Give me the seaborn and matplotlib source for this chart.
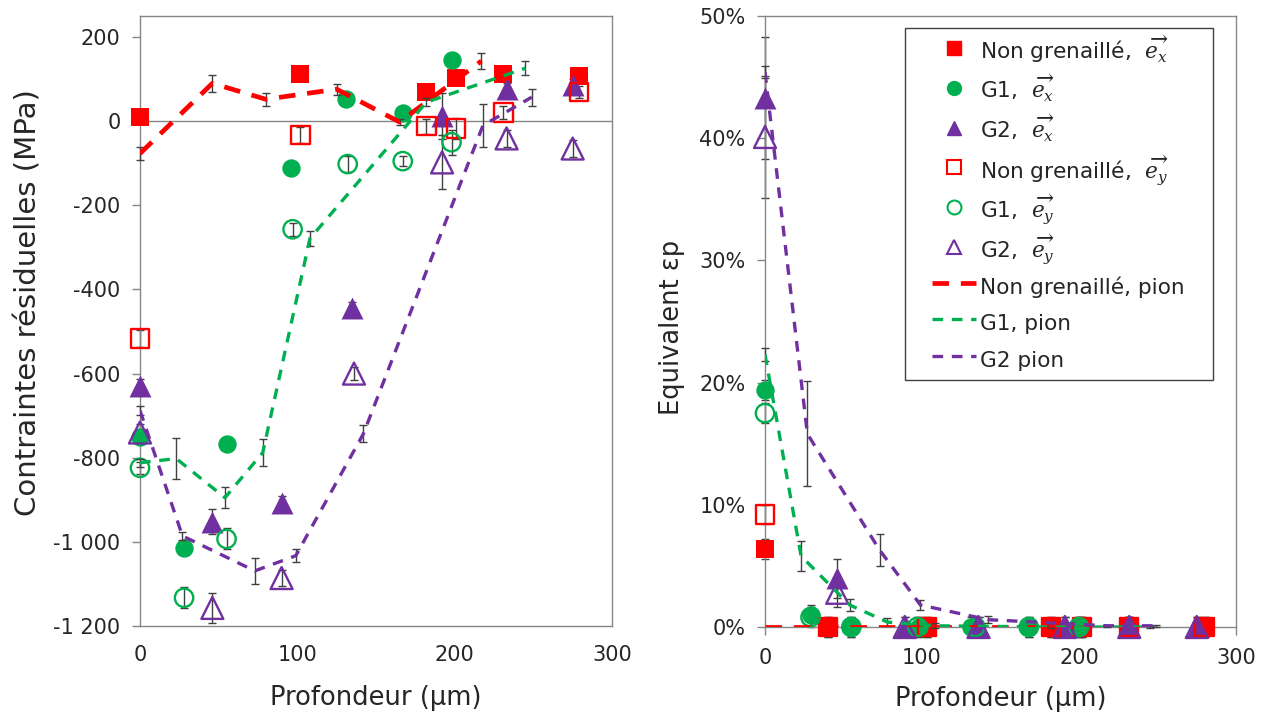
import matplotlib
matplotlib.use("Agg")
import matplotlib.pyplot as plt
import seaborn as sns
from matplotlib.lines import Line2D
from matplotlib.patches import Rectangle
from matplotlib.ticker import FixedLocator, FixedFormatter, PercentFormatter

# ---------------- data : left panel (residual stress, MPa) ----------------
ng_ex_x = [0, 102, 182, 201, 231, 279]
ng_ex_y = [10, 113, 70, 102, 113, 108]
ng_ex_e = [15, 15, 15, 15, 15, 15]

g1_ex_x = [0, 28, 55, 96, 131, 167, 198]
g1_ex_y = [-751, -1014, -767, -112, 52, 19, 145]
g1_ex_e = [15, 15, 15, 15, 15, 15, 15]

g2_ex_x = [0, 46, 90, 135, 192, 233, 275]
g2_ex_y = [-629, -952, -907, -445, 12, 76, 86]
g2_ex_e = [15, 30, 15, 15, 55, 15, 15]

ng_ey_x = [0, 102, 182, 201, 231, 279]
ng_ey_y = [-517, -33, -12, -17, 21, 69]
ng_ey_e = [20, 19, 18, 25, 15, 15]

g1_ey_x = [0, 28, 55, 97, 132, 167, 198]
g1_ey_y = [-824, -1133, -993, -257, -102, -95, -50]
g1_ey_e = [15, 25, 25, 15, 20, 12, 30]

g2_ey_x = [0, 46, 90, 136, 192, 233, 275]
g2_ey_y = [-740, -1157, -1086, -600, -98, -41, -65]
g2_ey_e = [20, 35, 20, 15, 64, 20, 20]

ng_pion_x = [0, 46, 80, 125, 165, 217]
ng_pion_y = [-77, 90, 52, 76, -2, 143]
ng_pion_e = [15, 20, 15, 13, 8, 18]

g1_pion_x = [0, 23, 54, 78, 108, 182, 245]
g1_pion_y = [-812, -802, -895, -788, -279, 45, 126]
g1_pion_e = [10, 48, 25, 32, 18, 10, 17]

g2_pion_x = [0, 27, 73, 99, 142, 218, 249]
g2_pion_y = [-688, -986, -1069, -1033, -743, -10, 57]
g2_pion_e = [10, 10, 31, 15, 20, 52, 20]

# ---------------- data : right panel (equivalent plastic strain, %) ----------------
ng_ex_x_r = [0, 40, 103, 182, 202, 232, 280]
ng_ex_y_r = [6.4, 0, 0, 0, 0, 0, 0]
ng_ey_x_r = [0, 40, 103, 182, 202, 232, 280]
ng_ey_y_r = [9.2, 0, 0, 0, 0, 0, 0]
g1_ex_x_r = [0, 29, 55, 98, 131, 168, 200]
g1_ex_y_r = [19.4, 1.0, 0, 0, 0, 0, 0]
g1_ey_x_r = [0, 29, 55, 97, 134, 168, 200]
g1_ey_y_r = [17.5, 0.8, 0, 0, 0, 0, 0]
g2_ex_x_r = [0, 46, 89, 136, 191, 232, 275]
g2_ex_y_r = [43.3, 4.0, 0, 0, 0, 0, 0]
g2_ey_x_r = [0, 46, 89, 136, 191, 232, 275]
g2_ey_y_r = [40.1, 2.8, 0, 0, 0, 0, 0]
mark_err_r = [0.8, 0.8, 0.8, 0.8, 0.8, 0.8, 0.8]
g2_ex_e_r = [5.0, 1.6, 0.8, 0.8, 0.8, 0.8, 0.8]
g2_ey_e_r = [5.0, 1.2, 0.8, 0.8, 0.8, 0.8, 0.8]

ng_pion_y_r = [0, 0, 0, 0, 0, 0]
g1_pion_y_r = [22.3, 5.8, 1.8, 0.4, 0.1, 0.0, 0.0]
g1_pion_e_r = [0.5, 1.2, 0.5, 0.3, 0.2, 0.1, 0.1]
g2_pion_y_r = [45.4, 15.8, 6.3, 1.8, 0.6, 0.1, 0.1]
g2_pion_e_r = [0.5, 4.3, 1.3, 0.4, 0.3, 0.1, 0.1]

left_yticks = [-1200, -1000, -800, -600, -400, -200, 0, 200]
left_yticklabels = ["-1 200", "-1 000", "-800", "-600", "-400", "-200", "0", "200"]
xticks = [0, 100, 200, 300]
right_yticks = [0, 10, 20, 30, 40, 50]

labels = ["Non grenaillé,  $\\overrightarrow{e_x}$", "G1,  $\\overrightarrow{e_x}$",
          "G2,  $\\overrightarrow{e_x}$", "Non grenaillé,  $\\overrightarrow{e_y}$",
          "G1,  $\\overrightarrow{e_y}$", "G2,  $\\overrightarrow{e_y}$",
          "Non grenaillé, pion", "G1, pion", "G2 pion"]

RED, GREEN, PURPLE = "#FF0000", "#00B050", "#7030A0"
GRAY = "#868686"
ERR = "#404040"

sns.set_theme(style="white")
plt.rcParams["font.family"] = ["DejaVu Sans"]
plt.rcParams["mathtext.fontset"] = "dejavuserif"

fig = plt.figure(figsize=(12.66, 7.18), dpi=100)
axL = fig.add_axes([140 / 1266, 1 - 626 / 718, 472 / 1266, 610 / 718])
axR = fig.add_axes([765 / 1266, 1 - 627 / 718, 471 / 1266, 611 / 718])

SQ, CI, TR = 175, 175, 250


def markers(ax, x, y, err, marker, color, filled, s):
    ax.errorbar(x, y, yerr=err, fmt="none", ecolor=ERR, elinewidth=1, capsize=3,
                capthick=1, zorder=2, clip_on=False)
    if filled:
        sns.scatterplot(x=x, y=y, ax=ax, marker=marker, s=s, color=color,
                        linewidth=0, zorder=3, clip_on=False, legend=False)
    else:
        sns.scatterplot(x=x, y=y, ax=ax, marker=marker, s=s, facecolor="none",
                        edgecolor=color, linewidth=1.7, zorder=3, clip_on=False,
                        legend=False)


def pion(ax, x, y, err, color, lw, dash):
    if err is not None:
        ax.errorbar(x, y, yerr=err, fmt="none", ecolor=ERR, elinewidth=1, capsize=3,
                    capthick=1, zorder=4, clip_on=False)
    sns.lineplot(x=x, y=y, ax=ax, color=color, lw=lw, linestyle=(0, dash), sort=False,
                 errorbar=None, zorder=5, legend=False)


# ---- left panel ----
axL.axhline(0, color=GRAY, lw=1, zorder=1)
markers(axL, ng_ex_x, ng_ex_y, ng_ex_e, "s", RED, True, SQ)
markers(axL, g1_ex_x, g1_ex_y, g1_ex_e, "o", GREEN, True, CI)
markers(axL, g2_ex_x, g2_ex_y, g2_ex_e, "^", PURPLE, True, TR)
markers(axL, ng_ey_x, ng_ey_y, ng_ey_e, "s", RED, False, SQ)
markers(axL, g1_ey_x, g1_ey_y, g1_ey_e, "o", GREEN, False, CI)
markers(axL, g2_ey_x, g2_ey_y, g2_ey_e, "^", PURPLE, False, TR)
pion(axL, ng_pion_x, ng_pion_y, ng_pion_e, RED, 3.4, (3.5, 2.5))
pion(axL, g1_pion_x, g1_pion_y, g1_pion_e, GREEN, 2.4, (3.2, 2.6))
pion(axL, g2_pion_x, g2_pion_y, g2_pion_e, PURPLE, 2.4, (3.2, 2.6))

axL.set_xlim(0, 300)
axL.set_ylim(-1200, 250)
axL.yaxis.set_major_locator(FixedLocator(left_yticks))
axL.yaxis.set_major_formatter(FixedFormatter(left_yticklabels))
axL.xaxis.set_major_locator(FixedLocator(xticks))
axL.tick_params(axis="y", direction="out", length=6, width=1, color=GRAY,
                pad=8, labelsize=15, left=True)
axL.tick_params(axis="x", length=0, pad=14, labelsize=15)
axL.set_xlabel("Profondeur (µm)", fontsize=18.5)
axL.set_ylabel("Contraintes résiduelles (MPa)", fontsize=21, va="center")
axL.yaxis.set_label_coords(-0.237, 0.53)
axL.xaxis.set_label_coords(0.5, -0.097)

# ---- right panel ----
markers(axR, ng_ex_x_r, ng_ex_y_r, mark_err_r, "s", RED, True, SQ)
markers(axR, g1_ex_x_r, g1_ex_y_r, mark_err_r, "o", GREEN, True, CI)
markers(axR, g2_ex_x_r, g2_ex_y_r, g2_ex_e_r, "^", PURPLE, True, TR)
markers(axR, ng_ey_x_r, ng_ey_y_r, mark_err_r, "s", RED, False, SQ)
markers(axR, g1_ey_x_r, g1_ey_y_r, mark_err_r, "o", GREEN, False, CI)
markers(axR, g2_ey_x_r, g2_ey_y_r, g2_ey_e_r, "^", PURPLE, False, TR)
pion(axR, ng_pion_x, ng_pion_y_r, None, RED, 3.4, (3.5, 2.5))
pion(axR, g1_pion_x, g1_pion_y_r, g1_pion_e_r, GREEN, 2.4, (3.2, 2.6))
pion(axR, g2_pion_x, g2_pion_y_r, g2_pion_e_r, PURPLE, 2.4, (3.2, 2.6))

axR.set_xlim(0, 300)
axR.set_ylim(0, 50)
axR.yaxis.set_major_locator(FixedLocator(right_yticks))
axR.yaxis.set_major_formatter(PercentFormatter(xmax=100, decimals=0))
axR.xaxis.set_major_locator(FixedLocator(xticks))
axR.tick_params(axis="y", direction="out", length=6, width=1, color=GRAY,
                pad=8, labelsize=15, left=True)
axR.tick_params(axis="x", direction="out", length=6, width=1, color=GRAY,
                pad=9, labelsize=15, bottom=True)
axR.set_xlabel("Profondeur (µm)", fontsize=18.5)
axR.set_ylabel("Equivalent εp", fontsize=18.5, va="center")
axR.yaxis.set_label_coords(-0.197, 0.49)
axR.xaxis.set_label_coords(0.5, -0.097)

for ax in (axL, axR):
    for sp in ax.spines.values():
        sp.set_color(GRAY)
        sp.set_linewidth(1)
    ax.grid(False)

# ---- legend ----
handles = [
    Line2D([], [], marker="s", color=RED, ls="none", markersize=9.5),
    Line2D([], [], marker="o", color=GREEN, ls="none", markersize=10),
    Line2D([], [], marker="^", color=PURPLE, ls="none", markersize=10),
    Line2D([], [], marker="s", mfc="none", mec=RED, mew=1.5, ls="none", markersize=9.5),
    Line2D([], [], marker="o", mfc="none", mec=GREEN, mew=1.5, ls="none", markersize=10),
    Line2D([], [], marker="^", mfc="none", mec=PURPLE, mew=1.5, ls="none", markersize=10),
    Line2D([], [], color=RED, lw=3.4, ls=(0, (3.5, 2.5))),
    Line2D([], [], color=GREEN, lw=2.4, ls=(0, (3.2, 2.6))),
    Line2D([], [], color=PURPLE, lw=2.4, ls=(0, (3.2, 2.6))),
]
fig.add_artist(Rectangle((905 / 1266, 1 - 380 / 718), 308 / 1266, 352 / 718,
                         transform=fig.transFigure, fill=True, facecolor="white",
                         edgecolor="#404040", lw=1, zorder=10))
leg = fig.legend(handles, labels, loc="upper left",
                 bbox_to_anchor=(917 / 1266, 1 - 18 / 718), frameon=False,
                 fontsize=15.6, handlelength=2.0, handleheight=1.75,
                 handletextpad=0.2, labelspacing=0.28, borderpad=0.2)
leg.set_zorder(11)

fig.savefig("out.png", dpi=100)
